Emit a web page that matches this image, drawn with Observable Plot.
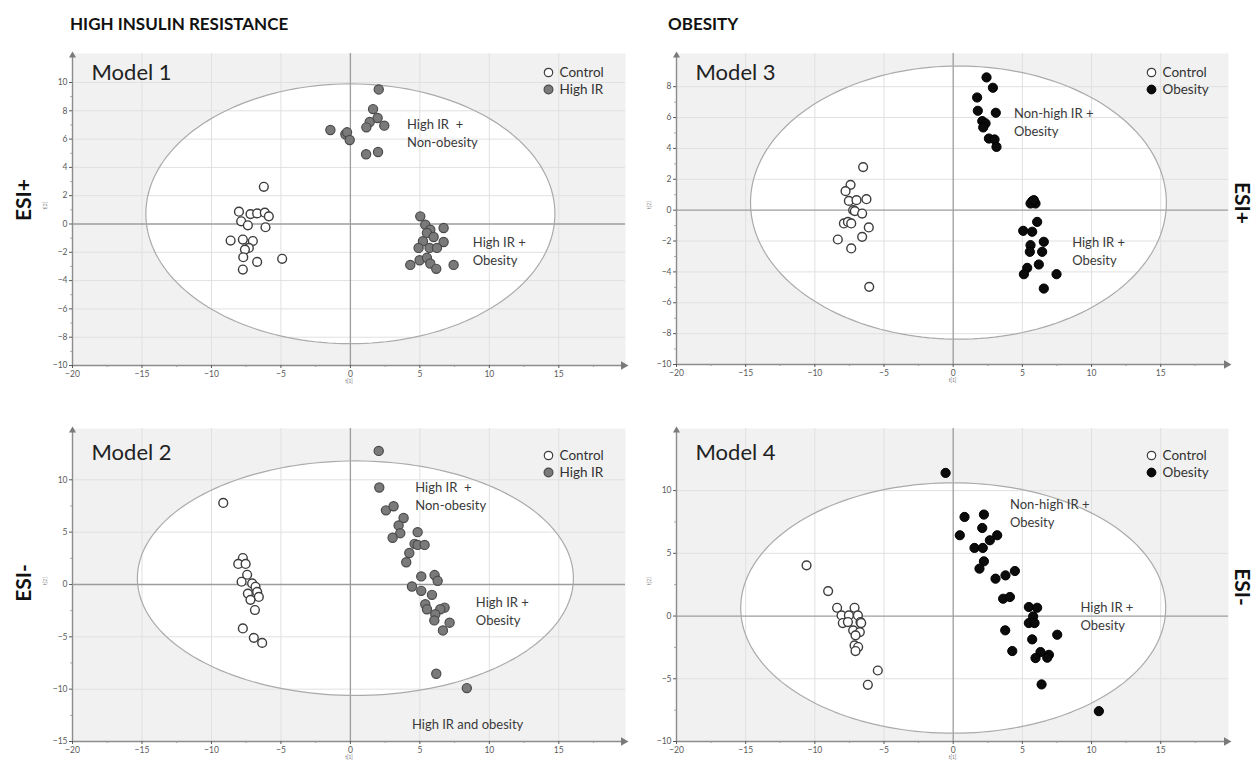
<!DOCTYPE html>
<html><head><meta charset="utf-8">
<script src="https://cdn.jsdelivr.net/npm/d3@7"></script>
<script src="https://cdn.jsdelivr.net/npm/@observablehq/plot@0.6"></script>
<style>
body{margin:0;background:#fff;font-family:Lato,"Open Sans",sans-serif;}
#root{position:relative;width:1259px;height:765px;overflow:hidden;background:#fff;}
.panel{position:absolute;}
.title{position:absolute;font-weight:bold;font-size:17px;color:#111;white-space:nowrap;line-height:1;}
.esi{position:absolute;font-weight:bold;font-size:21px;color:#111;white-space:nowrap;line-height:1;}
</style></head><body><div id="root"></div>
<script>
// ---------- data ----------
const sectionTitles = ["HIGH INSULIN RESISTANCE", "OBESITY"];
const modeLabels = ["ESI+", "ESI-"];
const modelNames = ["Model 1", "Model 2", "Model 3", "Model 4"];

const xTicks = [-20, -15, -10, -5, 0, 5, 10, 15];
const xMinorTicks = [-17.5, -12.5, -7.5, -2.5, 2.5, 7.5, 12.5, 17.5];

// Model 1 : ESI+, Control vs High IR
const model1Control = [[-6.23,2.63],[-8.02,0.87],[-7.19,0.70],[-6.71,0.75],[-6.16,0.80],[-5.87,0.54],[-7.86,0.19],[-7.38,-0.09],[-6.11,-0.23],[-8.62,-1.17],[-7.74,-1.10],[-7.02,-1.20],[-7.31,-1.69],[-7.59,-1.81],[-7.71,-2.35],[-6.71,-2.68],[-4.91,-2.46],[-7.74,-3.22]];
const model1HighIR = [[2.04,9.51],[1.63,8.12],[1.96,7.49],[1.39,7.21],[1.15,6.83],[2.44,6.95],[-1.44,6.64],[-0.36,6.34],[-0.24,6.48],[-0.05,5.94],[1.13,4.93],[1.99,5.09],[5.03,0.54],[5.39,-0.05],[5.75,-0.40],[6.71,-0.28],[5.51,-0.63],[5.99,-0.92],[5.22,-1.22],[6.71,-1.27],[4.91,-1.69],[5.70,-1.69],[6.23,-1.69],[4.98,-2.56],[5.51,-2.39],[4.31,-2.89],[5.75,-2.79],[6.18,-3.17],[7.43,-2.89]];

// Model 2 : ESI-, Control vs High IR
const model2Control = [[-9.15,7.79],[-7.74,2.53],[-8.07,1.96],[-7.54,1.96],[-7.43,0.93],[-7.83,0.26],[-7.07,0.10],[-6.83,-0.22],[-7.38,-0.87],[-6.71,-0.71],[-6.59,-1.19],[-7.19,-1.47],[-6.87,-2.44],[-7.74,-4.20],[-6.95,-5.10],[-6.35,-5.58]];
const model2HighIR = [[2.04,12.76],[2.08,9.26],[2.56,7.08],[3.11,7.47],[3.83,6.35],[3.47,5.64],[3.59,4.90],[3.04,4.46],[4.84,5.00],[4.62,3.88],[4.84,3.78],[5.34,3.78],[4.24,3.01],[4.02,2.12],[5.10,0.77],[6.06,0.90],[6.28,0.35],[4.43,-0.19],[5.10,-0.61],[5.87,-0.99],[5.39,-1.89],[5.51,-2.37],[6.78,-2.21],[6.47,-2.37],[6.11,-2.85],[6.04,-3.43],[7.14,-3.65],[6.66,-4.39],[6.18,-8.53],[8.38,-9.90]];

// Model 3 : ESI+, Control vs Obesity
const model3Control = [[-6.51,2.79],[-7.42,1.64],[-7.78,1.23],[-7.54,0.60],[-6.99,0.65],[-6.27,0.71],[-7.23,0.00],[-7.11,-0.06],[-6.58,-0.22],[-7.90,-0.86],[-7.61,-0.76],[-7.37,-0.86],[-6.10,-1.12],[-6.58,-1.73],[-8.34,-1.90],[-7.37,-2.48],[-6.07,-4.97]];
const model3Obesity = [[2.41,8.60],[2.87,7.93],[1.73,7.30],[1.78,6.44],[3.08,6.31],[2.10,5.77],[2.34,5.62],[2.17,5.36],[2.58,4.64],[2.99,4.58],[3.13,4.10],[5.71,0.58],[5.95,0.43],[5.59,0.43],[5.83,0.65],[6.07,-0.76],[5.06,-1.34],[5.71,-1.40],[6.55,-2.05],[5.59,-2.27],[5.54,-2.70],[6.43,-2.70],[6.19,-3.52],[5.35,-3.74],[5.11,-4.15],[7.47,-4.15],[6.55,-5.08]];

// Model 4 : ESI-, Control vs Obesity
const model4Control = [[-10.60,4.04],[-9.04,1.99],[-8.39,0.66],[-7.13,0.66],[-8.07,0.05],[-7.54,0.05],[-6.89,0.05],[-7.98,-0.56],[-7.61,-0.48],[-6.70,-0.48],[-6.65,-0.56],[-7.23,-1.14],[-6.75,-1.28],[-7.06,-1.54],[-7.13,-2.34],[-6.87,-2.47],[-7.06,-2.79],[-5.45,-4.34],[-6.17,-5.48]];
const model4Obesity = [[-0.55,11.41],[0.82,7.90],[2.22,8.09],[2.10,7.02],[0.48,6.44],[3.18,6.44],[2.65,6.04],[1.54,5.43],[2.14,5.43],[2.22,4.36],[1.90,3.78],[3.06,2.98],[3.78,3.24],[4.46,3.59],[3.61,1.38],[4.10,1.52],[5.47,0.72],[6.07,0.66],[5.78,-0.03],[5.47,-0.56],[5.88,-0.56],[3.76,-1.14],[7.52,-1.49],[5.71,-1.86],[4.27,-2.79],[6.31,-2.87],[6.92,-3.09],[5.95,-3.35],[6.80,-3.32],[6.39,-5.45],[10.53,-7.58]];

// Hotelling T2 ellipses: [centre x, centre y, half-width, half-height]
const model1Ellipse = [0.0, 0.72, 14.72, 9.18];
const model2Ellipse = [0.36, 0.60, 15.69, 11.20];
const model3Ellipse = [0.38, 0.49, 15.03, 8.85];
const model4Ellipse = [0.0, 0.64, 15.36, 9.98];

// y ticks per panel
const model1YTicks = [-10,-8,-6,-4,-2,0,2,4,6,8,10];
const model3YTicks = [-10,-8,-6,-4,-2,0,2,4,6,8];
const model2YTicks = [-15,-10,-5,0,5,10];
const model4YTicks = [-10,-5,0,5,10];

// cluster annotations
const model1Notes = [{x:4.07, y:6.49, text:"High IR  +\nNon-obesity"}, {x:8.81, y:-1.86, text:"High IR +\nObesity"}];
const model2Notes = [{x:4.67, y:8.52, text:"High IR  +\nNon-obesity"}, {x:9.03, y:-2.42, text:"High IR +\nObesity"}, {x:4.43, y:-13.27, text:"High IR and obesity"}];
const model3Notes = [{x:4.39, y:5.78, text:"Non-high IR +\nObesity"}, {x:8.60, y:-2.62, text:"High IR +\nObesity"}];
const model4Notes = [{x:4.10, y:8.27, text:"Non-high IR +\nObesity"}, {x:9.20, y:0.03, text:"High IR +\nObesity"}];

const legendHighIR = ["Control", "High IR"];
const legendObesity = ["Control", "Obesity"];

// ---------- styles ----------
const FONT = "Lato, 'Open Sans', sans-serif";
const styleControl = {fill: "white", stroke: "#3d3d3d", strokeWidth: 1.4};
const styleHighIR = {fill: "#7a7a7a", stroke: "#4a4a4a", strokeWidth: 1.2};
const styleObesity = {fill: "#0b0b0b", stroke: "#000", strokeWidth: 1};

function makePanel(cfg) {
  const {xDomain, yDomain, yTicks, yMinor, ellipse, control, cases, caseStyle, notes, legend, model, box, modelDy, legendDy} = cfg;
  const [cx, cy, rx, ry] = ellipse;
  const ell = d3.range(0, 361, 2).map(a => ({x: cx + rx * Math.cos(a * Math.PI / 180), y: cy + ry * Math.sin(a * Math.PI / 180)}));
  const xGrid = xTicks.filter(v => v !== 0 && v > xDomain[0]);
  const yGrid = yTicks.filter(v => v !== 0 && v > yDomain[0]);
  const pt = d => d;
  const svg = Plot.plot({
    width: box.w, height: box.h,
    marginLeft: box.ml, marginRight: box.mr, marginTop: box.mt, marginBottom: box.mb,
    x: {domain: xDomain},
    y: {domain: yDomain},
    style: {fontFamily: FONT, background: "transparent", overflow: "visible"},
    marks: [
      Plot.frame({fill: "#f1f1f1", stroke: null}),
      Plot.line(ell, {x: "x", y: "y", fill: "white", stroke: "none"}),
      Plot.ruleX(xGrid, {stroke: "#e0e0e0", strokeWidth: 1}),
      Plot.ruleY(yGrid, {stroke: "#e0e0e0", strokeWidth: 1}),
      Plot.ruleX([0], {stroke: "#9c9c9c", strokeWidth: 1.3}),
      Plot.ruleY([0], {stroke: "#9c9c9c", strokeWidth: 1.3}),
      Plot.line(ell, {x: "x", y: "y", stroke: "#aaaaaa", strokeWidth: 1.2}),
      // axis lines
      Plot.ruleX([xDomain[0]], {stroke: "#8c8c8c", strokeWidth: 1.4}),
      Plot.ruleY([yDomain[0]], {stroke: "#8c8c8c", strokeWidth: 1.4}),
      Plot.dot([xDomain[1]], {x: pt, y: () => yDomain[0], symbol: "triangle", rotate: 90, r: 3.2, fill: "#7a7a7a", stroke: "none", dx: -2}),
      Plot.dot([yDomain[1]], {x: () => xDomain[0], y: pt, symbol: "triangle", r: 2.6, fill: "#7a7a7a", stroke: "none", dy: 2}),
      Plot.axisX(xTicks, {tickSize: 3, tickPadding: 2, fontSize: 8.5, color: "#5a5a5a", label: null}),
      Plot.axisX(xMinorTicks.filter(v => v < xDomain[1]), {tickSize: 2, tickFormat: () => "", color: "#999", label: null}),
      Plot.axisY(yTicks, {tickSize: 3, tickPadding: 2, fontSize: 8.5, color: "#5a5a5a", label: null}),
      Plot.axisY(yMinor, {tickSize: 2, tickFormat: () => "", color: "#aaa", label: null}),
      Plot.text(["t[1]"], {frameAnchor: "bottom", dy: 17, fontSize: 5, fill: "#777"}),
      Plot.text(["t[2]"], {frameAnchor: "left", dx: -27, rotate: -90, fontSize: 5, fill: "#777"}),
      // points
      Plot.dot(control, {x: d => d[0], y: d => d[1], r: 4.4, ...styleControl}),
      Plot.dot(cases, {x: d => d[0], y: d => d[1], r: 4.6, ...caseStyle}),
      // annotations
      Plot.text(notes, {x: "x", y: "y", text: "text", textAnchor: "start", lineAnchor: "middle", lineHeight: 1.38, fontSize: 13, fill: "#3a3a3a"}),
      Plot.text([model], {frameAnchor: "top-left", dx: 19, dy: modelDy, textAnchor: "start", lineAnchor: "middle", fontSize: 22, fill: "#222"}),
      // legend
      Plot.dot([legend[0]], {frameAnchor: "top-right", dx: -77, dy: legendDy, r: 4.2, ...styleControl, strokeWidth: 1.2}),
      Plot.dot([legend[1]], {frameAnchor: "top-right", dx: -77, dy: legendDy + 17, r: 4.4, ...caseStyle}),
      Plot.text([legend[0]], {frameAnchor: "top-right", dx: -66, dy: legendDy, textAnchor: "start", lineAnchor: "middle", fontSize: 13.5, fill: "#333"}),
      Plot.text([legend[1]], {frameAnchor: "top-right", dx: -66, dy: legendDy + 17, textAnchor: "start", lineAnchor: "middle", fontSize: 13.5, fill: "#333"})
    ]
  });
  svg.classList.add("panel");
  svg.style.left = box.left + "px";
  svg.style.top = box.top + "px";
  return svg;
}

const root = document.getElementById("root");
const odd = t => d3.range(t[0], t[t.length - 1], (t[1] - t[0]) / 2).filter(v => !t.includes(v));

root.appendChild(makePanel({
  xDomain: [-20, 19.8], yDomain: [-10, 12.05], yTicks: model1YTicks, yMinor: odd(model1YTicks),
  ellipse: model1Ellipse, control: model1Control, cases: model1HighIR, caseStyle: styleHighIR,
  notes: model1Notes, legend: legendHighIR, model: modelNames[0], modelDy: 19, legendDy: 19,
  box: {left: 0, top: 40, w: 630, h: 350, ml: 72, mr: 5, mt: 13, mb: 25}
}));
root.appendChild(makePanel({
  xDomain: [-20, 19.9], yDomain: [-10, 10.15], yTicks: model3YTicks, yMinor: odd(model3YTicks),
  ellipse: model3Ellipse, control: model3Control, cases: model3Obesity, caseStyle: styleObesity,
  notes: model3Notes, legend: legendObesity, model: modelNames[2], modelDy: 19, legendDy: 19,
  box: {left: 630, top: 40, w: 629, h: 350, ml: 46, mr: 31, mt: 13, mb: 26}
}));
root.appendChild(makePanel({
  xDomain: [-20, 19.8], yDomain: [-15, 14.9], yTicks: model2YTicks, yMinor: odd(model2YTicks),
  ellipse: model2Ellipse, control: model2Control, cases: model2HighIR, caseStyle: styleHighIR,
  notes: model2Notes, legend: legendHighIR, model: modelNames[1], modelDy: 24, legendDy: 27,
  box: {left: 0, top: 400, w: 630, h: 365, ml: 72, mr: 5, mt: 28, mb: 24}
}));
root.appendChild(makePanel({
  xDomain: [-20, 19.9], yDomain: [-10, 14.95], yTicks: model4YTicks, yMinor: odd(model4YTicks),
  ellipse: model4Ellipse, control: model4Control, cases: model4Obesity, caseStyle: styleObesity,
  notes: model4Notes, legend: legendObesity, model: modelNames[3], modelDy: 24, legendDy: 27,
  box: {left: 630, top: 400, w: 629, h: 365, ml: 46, mr: 31, mt: 28, mb: 24}
}));

// titles
function addDiv(cls, text, css) {
  const d = document.createElement("div");
  d.className = cls; d.textContent = text;
  Object.assign(d.style, css);
  root.appendChild(d);
  return d;
}
addDiv("title", sectionTitles[0], {left: "70px", top: "15px"});
addDiv("title", sectionTitles[1], {left: "668px", top: "15px"});
const esiPos = [
  {t: modeLabels[0], x: 22, y: 200, r: -90},
  {t: modeLabels[1], x: 22, y: 583, r: -90},
  {t: modeLabels[0], x: 1243, y: 203, r: 90},
  {t: modeLabels[1], x: 1243, y: 587, r: 90}
];
for (const e of esiPos) {
  addDiv("esi", e.t, {left: e.x + "px", top: e.y + "px", transform: `translate(-50%,-50%) rotate(${e.r}deg)`});
}
</script></body></html>
